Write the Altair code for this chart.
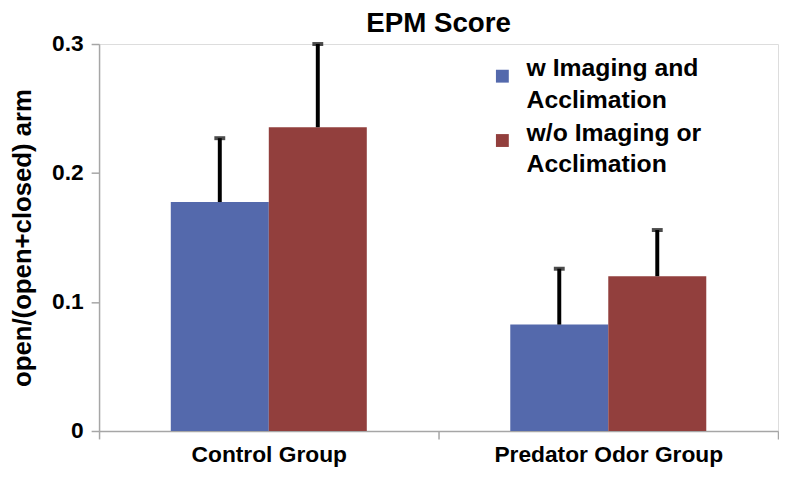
import altair as alt
import pandas as pd

groups = ["Control Group", "Predator Odor Group"]
series = ["w Imaging and\nAcclimation", "w/o Imaging or\nAcclimation"]
means_w = [0.1775, 0.0825]
means_wo = [0.2355, 0.1200]
err_w = [0.0495, 0.0433]
err_wo = [0.0645, 0.0358]
y_ticks = [0, 0.1, 0.2, 0.3]
colors = ["#5469AC", "#923F3D"]

rows = []
for i, g in enumerate(groups):
    rows.append(dict(group=g, series=series[0], mean=means_w[i], err=err_w[i]))
    rows.append(dict(group=g, series=series[1], mean=means_wo[i], err=err_wo[i]))
df = pd.DataFrame(rows)
df["upper"] = df["mean"] + df["err"]

FONT = "Liberation Sans"
AX = "#A6A6A6"

x = alt.X("group:N", sort=groups, title=None,
          scale=alt.Scale(paddingInner=0, paddingOuter=0),
          axis=alt.Axis(labelAngle=0, tickBand="extent", labelFontSize=23,
                        labelFontWeight="bold", labelColor="black", labelFont=FONT,
                        domainColor=AX, tickColor=AX, tickSize=8, domainWidth=1.5,
                        tickWidth=1.5, labelPadding=5, labelLimit=400))
xo = alt.XOffset("series:N", sort=series,
                 scale=alt.Scale(paddingInner=0, paddingOuter=0.732))
yax = alt.Axis(values=y_ticks, format="~g", grid=False, labelFontSize=23,
               labelFontWeight="bold", labelColor="black", labelFont=FONT,
               titleFontSize=26, titleFontWeight="bold", titleFont=FONT,
               titleColor="black", domainColor=AX, tickColor=AX, tickSize=8,
               domainWidth=1.5, tickWidth=1.5, labelPadding=8, titlePadding=16)
yscale = alt.Scale(domain=[0, 0.3], nice=False, zero=True)

bars = alt.Chart(df).mark_bar().encode(
    x=x, xOffset=xo,
    y=alt.Y("mean:Q", title="open/(open+closed) arm", scale=yscale, axis=yax),
    color=alt.Color("series:N", sort=series,
                    scale=alt.Scale(domain=series, range=colors),
                    legend=alt.Legend(title=None, orient="none", legendX=395, legendY=20,
                                      symbolType="square", symbolSize=169,
                                      symbolStrokeWidth=0, labelFontSize=25,
                                      labelFont=FONT, labelFontWeight="bold",
                                      labelColor="black", labelBaseline="alphabetic",
                                      labelExpr="split(datum.label, '\\n')",
                                      labelLimit=400, labelOffset=12, rowPadding=7,
                                      padding=0)),
)

rules = alt.Chart(df).mark_rule(color="black", strokeWidth=4).encode(
    x=x, xOffset=xo, y=alt.Y("mean:Q", scale=yscale), y2="upper:Q")

caps = alt.Chart(df).mark_tick(color="black", size=11, thickness=4).encode(
    x=x, xOffset=xo, y=alt.Y("upper:Q", scale=yscale))

chart = alt.layer(bars, rules, caps).properties(
    width=686, height=391,
    title=alt.Title("EPM Score", fontSize=28, font=FONT, fontWeight="bold",
                    color="black", anchor="middle", offset=-5),
    padding={"left": 2, "top": 0, "right": 0, "bottom": 0},
).configure_view(stroke=None).configure(
    style={"guide-label": {"lineHeight": 32}}
)

chart.save("out.html", embed_options={"renderer": "svg", "actions": False})
